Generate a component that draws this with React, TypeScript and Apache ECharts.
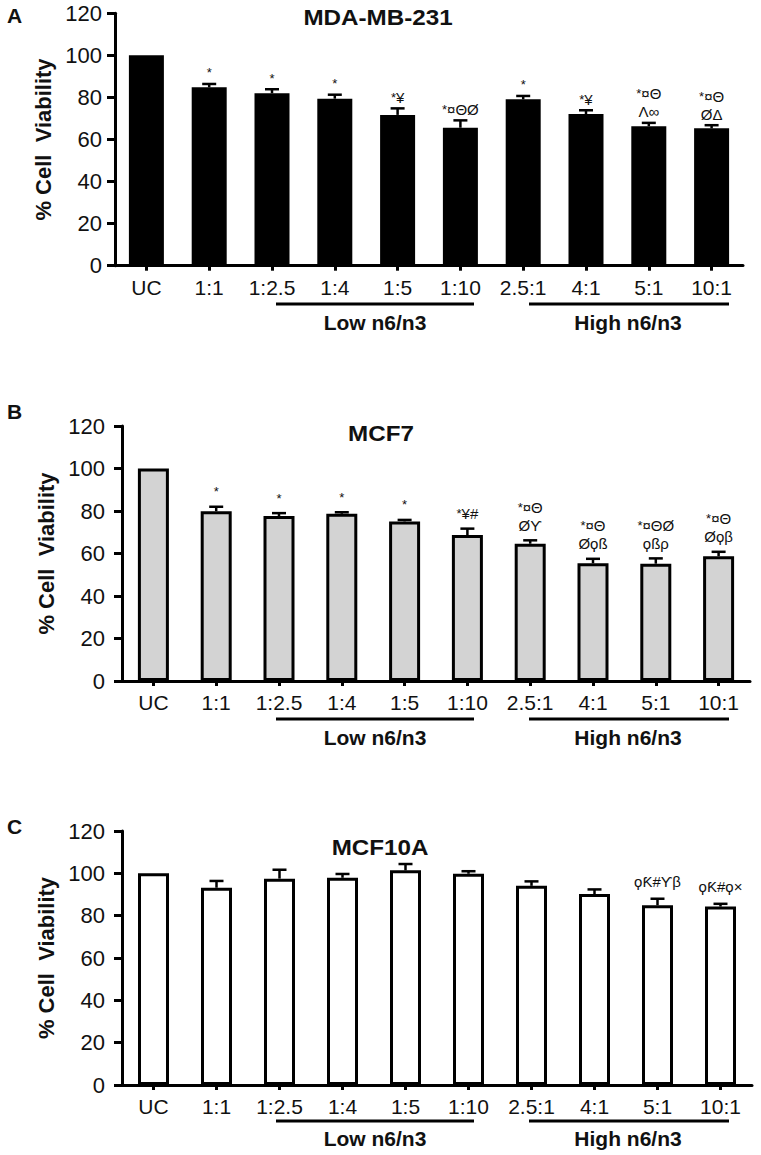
import React, { useEffect, useRef } from "react";
import * as echarts from "echarts";

const categories = ["UC", "1:1", "1:2.5", "1:4", "1:5", "1:10", "2.5:1", "4:1", "5:1", "10:1"];
const yMin = 0;
const yMax = 120;
const yStep = 20;

const mdaValues = [100, 84.8, 82, 79.4, 71.7, 65.6, 79.1, 72.1, 66.3, 65.3];
const mdaErrors = [0, 1.6, 1.9, 1.9, 3.1, 3.5, 1.6, 1.8, 1.6, 1.5];
const mdaMarks = ["", "*", "*", "*", "*¥", "*¤ΘØ", "*", "*¥", "*¤Θ\nΛ∞", "*¤Θ\nØΔ"];

const mcf7Values = [100, 79.9, 77.6, 78.7, 75.1, 68.7, 64.6, 55.4, 55.2, 58.7];
const mcf7Errors = [0, 2.1, 1.4, 0.7, 0.7, 3.0, 1.6, 2.1, 2.5, 2.1];
const mcf7Marks = ["", "*", "*", "*", "*", "*¥#", "*¤Θ\nØϒ", "*¤Θ\nØϙß", "*¤ΘØ\nϙßρ", "*¤Θ\nØϙβ"];

const mcf10aValues = [100, 93.2, 97.5, 97.9, 101.4, 99.8, 94.1, 90.2, 84.9, 84.3];
const mcf10aErrors = [0, 3.2, 4.2, 1.8, 3.0, 1.2, 2.1, 2.2, 3.1, 1.3];
const mcf10aMarks = ["", "", "", "", "", "", "", "", "ϙƘ#ϒβ", "ϙƘ#ϙ×"];

const titles = ["MDA-MB-231", "MCF7", "MCF10A"];
const panelLetters = ["A", "B", "C"];
const yName = "% Cell  Viability";
const lowLabel = "Low n6/n3";
const highLabel = "High n6/n3";

const FONT = 'Arial, "Liberation Sans", "DejaVu Sans", sans-serif';
const INK = "#111";

function richify(m: string): string {
  return m
    .split("\n")
    .map((line) => {
      if (line.startsWith("*")) {
        const rest = line.slice(1);
        return "{s|*}" + (rest ? "{n|" + rest + "}" : "");
      }
      return "{n|" + line + "}";
    })
    .join("\n");
}

type Panel = {
  values: number[];
  errors: number[];
  marks: string[];
  fill: string;
  border: number;
  barWidth: number;
  grid: { left: number; top: number; width: number; height: number };
  labelMargin: number;
  gap: number;
};

const panels: Panel[] = [
  {
    values: mdaValues,
    errors: mdaErrors,
    marks: mdaMarks,
    fill: "#000",
    border: 0,
    barWidth: 35,
    grid: { left: 115, top: 13.3, width: 628, height: 252.4 },
    labelMargin: 13,
    gap: 2,
  },
  {
    values: mcf7Values,
    errors: mcf7Errors,
    marks: mcf7Marks,
    fill: "#d3d3d3",
    border: 3,
    barWidth: 31,
    grid: { left: 122, top: 426, width: 628, height: 255 },
    labelMargin: 17,
    gap: 6,
  },
  {
    values: mcf10aValues,
    errors: mcf10aErrors,
    marks: mcf10aMarks,
    fill: "#fff",
    border: 3,
    barWidth: 31,
    grid: { left: 122, top: 831, width: 630, height: 254 },
    labelMargin: 17,
    gap: 8,
  },
];

export default function App() {
  const ref = useRef<HTMLDivElement>(null);

  useEffect(() => {
    if (!ref.current) return;
    const chart = echarts.init(ref.current, undefined, { renderer: "svg" });

    const grids: any[] = [];
    const xAxes: any[] = [];
    const yAxes: any[] = [];
    const series: any[] = [];

    panels.forEach((p, idx) => {
      grids.push({ ...p.grid, containLabel: false });
      xAxes.push({
        type: "category",
        gridIndex: idx,
        data: categories,
        boundaryGap: true,
        axisLine: { show: true, lineStyle: { color: "#000", width: 3 } },
        axisTick: { show: true, alignWithLabel: true, length: 5, lineStyle: { color: "#000", width: 3 } },
        axisLabel: { color: INK, fontSize: 21, fontFamily: FONT, margin: 11, interval: 0 },
        splitLine: { show: false },
      });
      yAxes.push({
        type: "value",
        gridIndex: idx,
        min: yMin,
        max: yMax,
        interval: yStep,
        axisLine: { show: true, lineStyle: { color: "#000", width: 3 } },
        axisTick: { show: true, length: 8, lineStyle: { color: "#000", width: 3 } },
        axisLabel: { color: INK, fontSize: 22, fontFamily: FONT, margin: p.labelMargin },
        splitLine: { show: false },
        name: yName,
        nameLocation: "middle",
        nameGap: idx === 0 ? 58 : 64,
        nameTextStyle: { color: INK, fontSize: 22, fontWeight: "bold", fontFamily: FONT },
      });
      series.push({
        type: "bar",
        xAxisIndex: idx,
        yAxisIndex: idx,
        data: p.values,
        barWidth: p.barWidth,
        itemStyle: { color: p.fill, borderColor: "#000", borderWidth: p.border },
        z: 2,
      });
      const marks = p.marks;
      const gap = p.gap;
      series.push({
        type: "custom",
        xAxisIndex: idx,
        yAxisIndex: idx,
        z: 4,
        data: p.values.map((v, i) => [i, v, p.errors[i]]),
        renderItem: (params: any, api: any) => {
          const i = api.value(0);
          const v = api.value(1);
          const e = api.value(2);
          const base = api.coord([i, v]);
          const top = api.coord([i, v + e]);
          const children: any[] = [];
          if (e > 0) {
            children.push({
              type: "line",
              shape: { x1: base[0], y1: base[1], x2: top[0], y2: top[1] },
              style: { stroke: "#000", lineWidth: 2.5 },
            });
            children.push({
              type: "line",
              shape: { x1: top[0] - 7, y1: top[1], x2: top[0] + 7, y2: top[1] },
              style: { stroke: "#000", lineWidth: 2.5 },
            });
          }
          const m = marks[params.dataIndex];
          if (m) {
            children.push({
              type: "text",
              x: top[0],
              y: top[1] - gap,
              style: {
                text: richify(m),
                align: "center",
                verticalAlign: "bottom",
                fill: "#111",
                fontFamily: FONT,
                fontSize: 15,
                lineHeight: 18,
                rich: {
                  s: { fontSize: 13, fontFamily: FONT, fill: "#111", lineHeight: 18 },
                  n: { fontSize: 15, fontFamily: FONT, fill: "#111", lineHeight: 18 },
                },
              },
            });
          }
          return { type: "group", children };
        },
      });
    });

    const titleYs = [17, 433, 847];
    const titleXs = [378, 381, 380];
    const letterYs = [15, 411, 826];
    const groupLineYs = [304, 719, 1121];
    const groupTextYs = [322, 737, 1138];

    const graphics: any[] = [];
    for (let k = 0; k < 3; k++) {
      graphics.push({
        type: "text",
        x: titleXs[k],
        y: titleYs[k],
        scaleX: 1.1,
        style: {
          text: titles[k],
          fill: INK,
          font: `bold 22px ${FONT}`,
          align: "center",
          verticalAlign: "middle",
        },
      });
      graphics.push({
        type: "text",
        x: 7,
        y: letterYs[k],
        style: {
          text: panelLetters[k],
          fill: INK,
          font: `bold 21px ${FONT}`,
          align: "left",
          verticalAlign: "middle",
        },
      });
      graphics.push({
        type: "line",
        shape: { x1: 276, y1: groupLineYs[k], x2: 474, y2: groupLineYs[k] },
        style: { stroke: "#000", lineWidth: 3 },
      });
      graphics.push({
        type: "line",
        shape: { x1: 529, y1: groupLineYs[k], x2: 729, y2: groupLineYs[k] },
        style: { stroke: "#000", lineWidth: 3 },
      });
      graphics.push({
        type: "text",
        x: 375,
        y: groupTextYs[k],
        style: {
          text: lowLabel,
          fill: INK,
          font: `bold 21px ${FONT}`,
          align: "center",
          verticalAlign: "middle",
        },
      });
      graphics.push({
        type: "text",
        x: 628,
        y: groupTextYs[k],
        style: {
          text: highLabel,
          fill: INK,
          font: `bold 21px ${FONT}`,
          align: "center",
          verticalAlign: "middle",
        },
      });
    }

    chart.setOption({
      animation: false,
      backgroundColor: "#fff",
      textStyle: { fontFamily: FONT },
      grid: grids,
      xAxis: xAxes,
      yAxis: yAxes,
      series,
      graphic: graphics,
    });

    return () => {
      chart.dispose();
    };
  }, []);

  return (
    <div
      ref={ref}
      style={{ position: "absolute", left: 0, top: 0, width: 761, height: 1155, background: "#fff" }}
    />
  );
}
